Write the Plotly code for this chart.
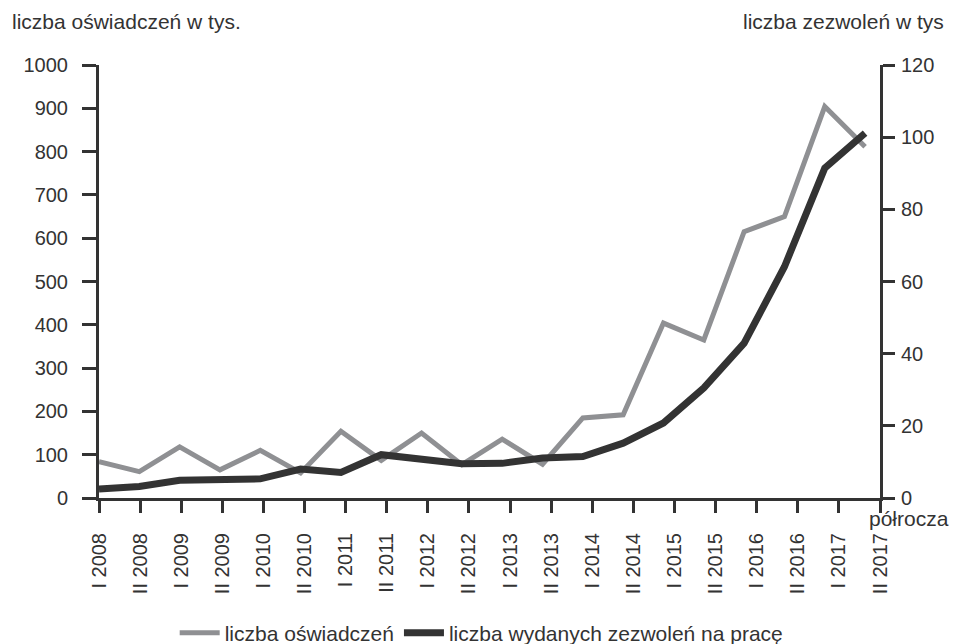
import numpy as np
import plotly.graph_objects as go

categories = ["I 2008", "II 2008", "I 2009", "II 2009", "I 2010", "II 2010",
              "I 2011", "II 2011", "I 2012", "II 2012", "I 2013", "II 2013",
              "I 2014", "II 2014", "I 2015", "II 2015", "I 2016", "II 2016",
              "I 2017", "II 2017"]
oswiadczenia = [84, 61, 118, 65, 110, 58, 154, 87, 150, 77, 136, 78,
                185, 192, 404, 365, 615, 650, 904, 811]
zezwolenia = [2.5, 3.2, 4.9, 4.9, 5.3, 8.0, 7.1, 12.0, 10.8, 9.5, 9.6, 11.1,
              11.5, 15.2, 20.8, 30.5, 42.9, 64.1, 91.4, 101.1]

x = list(range(len(categories)))
xmax = 19.37
tickpos = list(np.linspace(0, xmax, len(categories)))

AX = "#333333"
FONT = "Liberation Sans, Arial, sans-serif"

fig = go.Figure()
fig.add_trace(go.Scatter(x=x, y=oswiadczenia, name="liczba oświadczeń",
                         mode="lines", line=dict(color="#8f9093", width=5),
                         yaxis="y"))
fig.add_trace(go.Scatter(x=x, y=zezwolenia, name="liczba wydanych zezwoleń na pracę",
                         mode="lines", line=dict(color="#333333", width=7),
                         yaxis="y2"))

fig.update_layout(
    width=949, height=636,
    margin=dict(l=91, r=77, t=57, b=146, autoexpand=False),
    paper_bgcolor="white", plot_bgcolor="white",
    font=dict(family=FONT, color=AX, size=20),
    showlegend=True,
    legend=dict(orientation="h", x=0.49, xanchor="center", y=-0.312, yanchor="middle",
                font=dict(size=21, color=AX), itemwidth=40, tracegroupgap=0),
    xaxis=dict(range=[0, xmax], tickvals=tickpos, ticktext=categories,
               tickangle=-90, ticks="outside", ticklen=12, tickwidth=3,
               tickcolor=AX, showline=True, linewidth=3, linecolor=AX,
               showgrid=False, zeroline=False, tickfont=dict(size=20),
               ticklabelstandoff=12),
    yaxis=dict(range=[0, 1000], dtick=100, ticks="outside", ticklen=14,
               tickwidth=3, tickcolor=AX, showline=True, linewidth=3,
               linecolor=AX, showgrid=False, zeroline=False,
               tickfont=dict(size=20), ticklabelstandoff=10),
    yaxis2=dict(range=[0, 120], dtick=20, overlaying="y", side="right",
                ticks="outside", ticklen=12, tickwidth=3, tickcolor=AX,
                showline=True, linewidth=3, linecolor=AX, showgrid=False,
                zeroline=False, tickfont=dict(size=20), ticklabelstandoff=2),
    annotations=[
        dict(text="liczba oświadczeń w tys.", xref="paper", yref="paper",
             x=0, y=1, xshift=-89, yshift=44, xanchor="left", yanchor="middle",
             showarrow=False, font=dict(size=21, color=AX)),
        dict(text="liczba zezwoleń w tys", xref="paper", yref="paper",
             x=1, y=1, xshift=66, yshift=44, xanchor="right", yanchor="middle",
             showarrow=False, font=dict(size=21, color=AX)),
        dict(text="półrocza", xref="paper", yref="paper",
             x=1, y=0, xshift=-13, yshift=-20, xanchor="left", yanchor="middle",
             showarrow=False, font=dict(size=21, color=AX)),
    ],
)

fig.write_html("out.html")
